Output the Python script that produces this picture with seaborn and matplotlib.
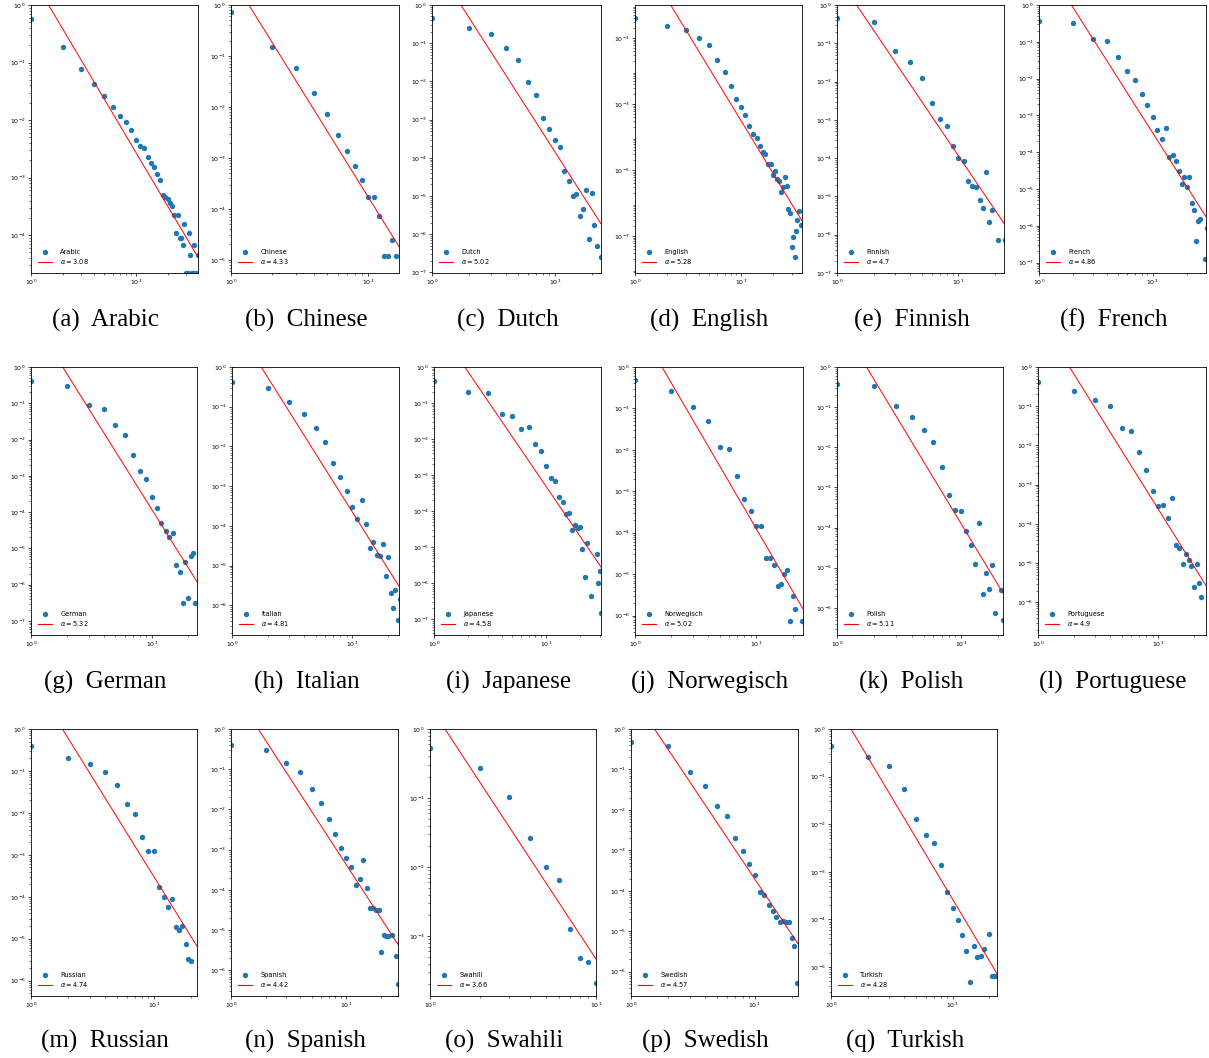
import numpy as np
import matplotlib
matplotlib.use("Agg")
import matplotlib.pyplot as plt
from matplotlib.ticker import LogLocator, NullFormatter
from matplotlib.lines import Line2D
import seaborn as sns

# ---------------- data ----------------
languages = ["Arabic", "Chinese", "Dutch", "English", "Finnish", "French",
             "German", "Italian", "Japanese", "Norwegisch", "Polish", "Portuguese",
             "Russian", "Spanish", "Swahili", "Swedish", "Turkish"]
letters = list("abcdefghijklmnopq")
alphas = [3.08, 4.33, 5.02, 5.28, 4.7, 4.86, 5.32, 4.81, 4.58, 5.02, 5.11, 4.9,
          4.74, 4.42, 3.66, 4.57, 4.28]
# x at which the fitted power law equals 1  (y = (x / x0) ** -alpha)
fit_x0 = [1.47, 1.35, 1.72, 2.17, 1.45, 1.93, 1.83, 1.75, 1.88, 1.67, 1.73, 1.83,
          1.80, 1.72, 1.23, 1.55, 1.46]
x_max = [39, 16.8, 23.8, 37.6, 23.7, 29.5, 23.7, 24.6, 30.7, 24.3, 21.9, 25.1,
         22.3, 28, 10, 22.5, 23.2]
y_min = [2.2e-5, 5.5e-6, 9.6e-8, 7.6e-9, 1e-7, 5.2e-8, 4.1e-8, 1.78e-7, 3.6e-8,
         3.4e-7, 2.1e-7, 1.47e-7, 4.3e-7, 2.3e-7, 1.36e-4, 2.5e-7, 2.45e-6]

arabic_x = [1, 2, 3, 4, 5, 6, 7, 8, 9, 10, 11, 12, 13, 14, 15, 16, 17, 18, 19, 20,
            21, 22, 23, 24, 25, 26, 27, 28, 29, 30, 31, 32, 33, 34, 35, 36, 37, 39]
arabic_y = [0.57, 0.185, 0.077, 0.042, 0.026, 0.017, 0.0117, 0.0092, 0.0068, 0.0045,
            0.0036, 0.0033, 0.0023, 0.0018, 0.0015, 0.00116, 0.00092, 0.00049, 0.00046,
            0.00042, 0.00036, 0.00032, 0.00022, 0.00011, 0.00022, 9e-5, 9e-5, 6.8e-5,
            1.55e-4, 2.2e-5, 2.2e-5, 1.1e-4, 4.5e-5, 2.2e-5, 2.2e-5, 6.8e-5, 2.2e-5, 4.5e-5]

chinese_x = list(range(1, 17))
chinese_y = [0.74, 0.152, 0.057, 0.0185, 0.0074, 0.0028, 0.00135, 0.0007, 0.00036,
             0.00017, 0.00017, 7.2e-5, 1.2e-5, 1.2e-5, 2.43e-5, 1.2e-5]

dutch_x = list(range(1, 23)) + [24]
dutch_y = [0.455, 0.25, 0.17, 0.075, 0.036, 0.0095, 0.0043, 0.00108, 0.00056, 0.000286,
           0.00019, 4.4e-5, 2.4e-5, 1.0e-5, 1.15e-5, 3.0e-6, 4.5e-6, 1.45e-5, 7.6e-7,
           1.2e-5, 1.73e-6, 5e-7, 2.5e-7]

english_x = list(range(1, 36)) + [37]
english_y = [0.41, 0.226, 0.17, 0.1, 0.063, 0.0214, 0.0094, 0.0035, 0.00145, 0.00081,
             0.00045, 0.00021, 0.000125, 9.2e-5, 5.4e-5, 3.4e-5, 3e-5, 1.5e-5, 1.5e-5,
             7.2e-6, 9.3e-6, 5.4e-6, 4.7e-6, 2.15e-6, 3e-6, 6.2e-6, 3.4e-6, 6.8e-7,
             5.1e-7, 4.7e-8, 9.1e-8, 2.3e-8, 1.4e-7, 3e-7, 5.6e-7, 2.2e-7]

finnish_x = list(range(1, 20)) + [21, 24]
finnish_y = [0.45, 0.353, 0.064, 0.033, 0.0127, 0.00272, 0.00104, 0.00068, 0.00021,
             9.8e-5, 8.3e-5, 2.5e-5, 1.86e-5, 1.8e-5, 8e-6, 5e-6, 4.4e-5, 2.2e-6,
             4.4e-6, 7.4e-7, 7.4e-7]

french_x = list(range(1, 27)) + [29, 30]
french_y = [0.37, 0.32, 0.117, 0.108, 0.039, 0.0165, 0.0089, 0.00376, 0.00186, 0.00088,
            0.00039, 0.000235, 0.00046, 7.2e-5, 8.5e-5, 5.6e-5, 3.1e-5, 1.4e-5, 2.05e-5,
            1.1e-5, 2.05e-5, 4.2e-6, 2.7e-6, 3.76e-7, 1.38e-6, 1.5e-6, 1.25e-7, 8.7e-7]

german_x = list(range(1, 24))
german_y = [0.41, 0.30, 0.092, 0.069, 0.025, 0.013, 0.0037, 0.00138, 0.00083, 0.00026,
            0.000126, 5e-5, 3e-5, 2e-5, 2.6e-5, 3.5e-6, 2.3e-6, 3.2e-7, 4.2e-6, 4.3e-7,
            6.3e-6, 7.5e-6, 3.2e-7]

italian_x = list(range(1, 26))
italian_y = [0.41, 0.30, 0.135, 0.067, 0.029, 0.013, 0.0039, 0.00165, 0.00077, 0.00029,
             0.000152, 0.00044, 0.000114, 2.7e-5, 3.9e-5, 1.8e-5, 1.7e-5, 3.4e-5, 5.5e-6,
             1.65e-5, 2e-6, 8.3e-7, 2.45e-6, 4.2e-7, 1.45e-6]

japanese_x = list(range(1, 24)) + [25, 28, 29, 30, 31]
japanese_y = [0.41, 0.2, 0.19, 0.05, 0.043, 0.0194, 0.0215, 0.0073, 0.0045, 0.0018,
              0.00081, 0.00068, 0.00024, 0.000178, 8.1e-5, 8.8e-5, 2.9e-5, 4e-5, 3.4e-5,
              3.5e-5, 8.8e-6, 1.44e-6, 1.3e-5, 4.5e-7, 6.5e-6, 1.02e-6, 2.15e-6, 1.47e-7]

norwegisch_x = list(range(1, 22)) + [24]
norwegisch_y = [0.48, 0.27, 0.11, 0.049, 0.0115, 0.0103, 0.0023, 0.00065, 0.00033,
                0.000145, 0.000145, 2.45e-5, 2.45e-5, 1.66e-5, 5.1e-6, 5.9e-6, 1.0e-5,
                1.23e-5, 7.4e-7, 2.93e-6, 1.47e-6, 7.4e-7]

polish_x = list(range(1, 20)) + [21, 22]
polish_y = [0.38, 0.33, 0.106, 0.057, 0.0274, 0.0137, 0.0032, 0.00065, 0.00028, 0.00026,
            8.2e-5, 3.7e-5, 1.23e-5, 1.3e-4, 2.2e-6, 7.4e-6, 2.9e-6, 1.17e-5, 7.4e-7,
            2.7e-6, 5e-7]

portuguese_x = list(range(1, 24))
portuguese_y = [0.41, 0.25, 0.146, 0.103, 0.028, 0.0236, 0.007, 0.00234, 0.00071,
                0.00028, 0.0003, 0.00014, 0.00046, 2.9e-5, 2.45e-5, 9.4e-6, 1.7e-5,
                1.2e-5, 8.3e-6, 2.45e-6, 9.4e-6, 3.15e-6, 1.4e-6]

russian_x = list(range(1, 21))
russian_y = [0.39, 0.209, 0.145, 0.094, 0.045, 0.0166, 0.0094, 0.00272, 0.00122, 0.00126,
             0.000174, 0.0001, 5.7e-5, 8.9e-5, 1.9e-5, 1.6e-5, 2.05e-5, 7.5e-6, 3.2e-6,
             2.9e-6]

spanish_x = list(range(1, 24)) + [25, 27, 28]
spanish_y = [0.39, 0.295, 0.143, 0.087, 0.033, 0.0142, 0.0059, 0.00246, 0.0011, 0.00062,
             0.00038, 0.000136, 0.00019, 0.00056, 0.00011, 3.55e-5, 3.55e-5, 3.2e-5,
             3.2e-5, 2.8e-6, 7.7e-6, 7.3e-6, 7.1e-6, 7.7e-6, 2.33e-6, 4.7e-7]

swahili_x = list(range(1, 11))
swahili_y = [0.525, 0.27, 0.102, 0.0263, 0.0102, 0.0066, 0.00126, 0.00048, 0.00042,
             0.000213]

swedish_x = list(range(1, 23))
swedish_y = [0.47, 0.38, 0.088, 0.04, 0.0122, 0.0072, 0.00204, 0.00094, 0.00047, 0.00024,
             9.4e-5, 7.7e-5, 4.4e-5, 3.2e-5, 2.27e-5, 1.67e-5, 1.8e-5, 1.7e-5, 1.65e-5,
             6.9e-6, 4.3e-6, 5.2e-7]

turkish_x = list(range(1, 19)) + [20, 21, 22, 23]
turkish_y = [0.45, 0.26, 0.17, 0.055, 0.0131, 0.0059, 0.0041, 0.00136, 0.00037, 0.000172,
             9.5e-5, 4.7e-5, 2.2e-5, 4.8e-6, 2.8e-5, 1.58e-5, 1.7e-5, 2.35e-5, 4.9e-5,
             6.3e-6, 6.3e-6, 6.3e-6]

series_x = [arabic_x, chinese_x, dutch_x, english_x, finnish_x, french_x, german_x,
            italian_x, japanese_x, norwegisch_x, polish_x, portuguese_x, russian_x,
            spanish_x, swahili_x, swedish_x, turkish_x]
series_y = [arabic_y, chinese_y, dutch_y, english_y, finnish_y, french_y, german_y,
            italian_y, japanese_y, norwegisch_y, polish_y, portuguese_y, russian_y,
            spanish_y, swahili_y, swedish_y, turkish_y]

# ---------------- layout (pixels) ----------------
W, H = 1209, 1058
rows = [
    dict(top=5, bottom=273, cap=327,
         lr=[(31, 198), (231, 399), (432, 601), (635, 802), (837, 1004), (1039, 1206)]),
    dict(top=367, bottom=635, cap=689,
         lr=[(31, 197), (232, 399), (434, 601), (635, 803), (837, 1003), (1038, 1206)]),
    dict(top=729, bottom=996, cap=1048,
         lr=[(31, 197), (231, 398), (430, 596), (631, 798), (831, 997)]),
]
slots = [(r, c) for r in range(3) for c in range(len(rows[r]["lr"]))]

plt.rcParams["font.family"] = ["DejaVu Sans"]
plt.rcParams["mathtext.fontset"] = "dejavusans"
fig = plt.figure(figsize=(W / 100, H / 100), dpi=100)
fig.patch.set_facecolor("white")

blue = "#1f77b4"
red = "#ff0000"
for i, name in enumerate(languages):
    r, c = slots[i]
    row = rows[r]
    left, right = row["lr"][c]
    ax = fig.add_axes([left / W, 1 - row["bottom"] / H,
                       (right - left) / W, (row["bottom"] - row["top"]) / H])
    xs = np.array(series_x[i], dtype=float)
    ys = np.array(series_y[i], dtype=float)
    sns.scatterplot(x=xs, y=ys, ax=ax, s=15, color=blue, linewidth=0)
    xf = np.geomspace(1, x_max[i], 200)
    yf = (xf / fit_x0[i]) ** (-alphas[i])
    sns.lineplot(x=xf, y=yf, ax=ax, color=red, linewidth=0.7)
    ax.set_xscale("log")
    ax.set_yscale("log")
    ax.set_xlim(1, x_max[i])
    ax.set_ylim(y_min[i], 1)
    ndec = -np.log10(y_min[i])
    ax.yaxis.set_major_locator(LogLocator(base=10, numticks=6 if ndec > 8 else 12))
    ax.xaxis.set_minor_formatter(NullFormatter())
    ax.yaxis.set_minor_formatter(NullFormatter())
    ax.tick_params(which="major", labelsize=4.5, length=2.2, width=0.5, pad=1.5)
    ax.tick_params(which="minor", length=1.2, width=0.4)
    for sp in ax.spines.values():
        sp.set_linewidth(0.6)
    ax.set_xlabel("")
    ax.set_ylabel("")
    handles = [
        Line2D([], [], linestyle="none", marker="o", markersize=3.9,
               markerfacecolor=blue, markeredgewidth=0, color=blue),
        Line2D([], [], color=red, linewidth=0.8),
    ]
    labels = [name, r"$\alpha = %s$" % alphas[i]]
    ax.legend(handles, labels, loc="lower left", frameon=False, fontsize=4.8,
              handlelength=2.2, borderaxespad=0.6, labelspacing=0.35,
              handletextpad=1.2)
    cx = (left + right) / 2 - 9
    fig.text(cx / W, 1 - row["cap"] / H, "(%s)  %s" % (letters[i], name),
             ha="center", va="baseline", fontsize=18, family="Liberation Serif")

fig.savefig("out.png", dpi=100, facecolor="white")
